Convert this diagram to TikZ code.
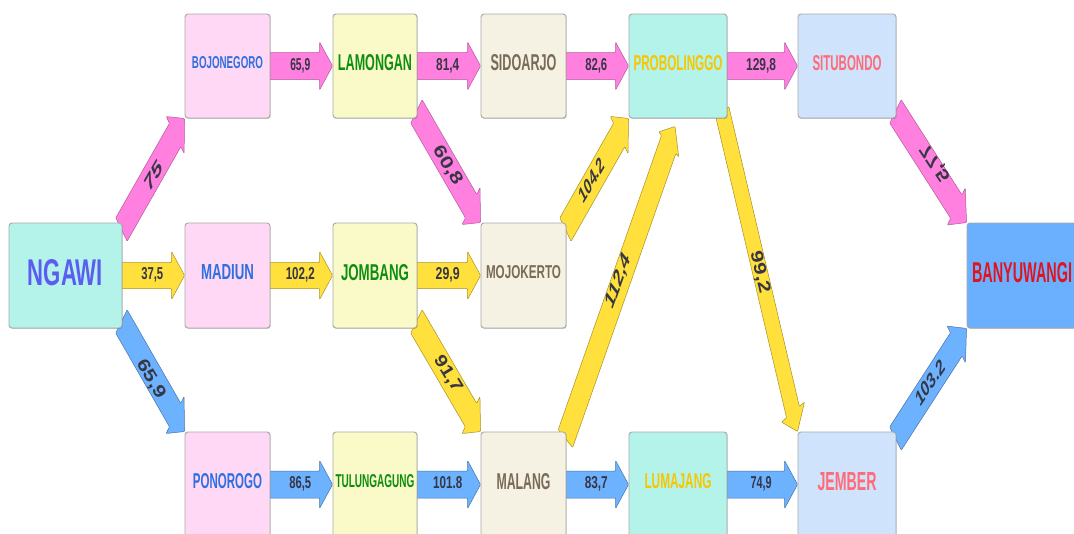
\documentclass[tikz,border=0pt]{standalone}
\usepackage{fontspec}
\setmainfont{Liberation Sans}
\usepackage{graphicx}
\usetikzlibrary{calc,shadows}
\definecolor{fMint}{HTML}{B4F3EA}
\definecolor{fPink}{HTML}{FFD8F5}
\definecolor{fYel}{HTML}{FAFAC8}
\definecolor{fBeige}{HTML}{F5F1E3}
\definecolor{fSky}{HTML}{CFE3FC}
\definecolor{fBlue}{HTML}{6BB0FF}
\definecolor{tViolet}{HTML}{5C5CF2}
\definecolor{tBlue}{HTML}{2F6FE0}
\definecolor{tGreen}{HTML}{0E8E0E}
\definecolor{tBrown}{HTML}{7A6B58}
\definecolor{tGold}{HTML}{F7C600}
\definecolor{tSalmon}{HTML}{FF6B78}
\definecolor{tRed}{HTML}{E0141E}
\definecolor{tNum}{HTML}{363645}
\definecolor{aPink}{HTML}{FF80DF}
\definecolor{aYel}{HTML}{FFE03C}
\definecolor{aBlue}{HTML}{6CB2FF}
\definecolor{edge}{HTML}{A8A8A8}
\pgfdeclarelayer{bg}
\pgfsetlayers{bg,main}
% tail, tip, cross-x, cross-y, shaft half, head half, head length, style
\newcommand\barrow[8]{%
  \coordinate (bA) at (#1);
  \coordinate (bT) at (#2);
  \coordinate (bB) at ($(bT)!#7pt!(bA)$);
  \filldraw[#8] ($(bA)+#5*(#3,#4)$) -- ($(bB)+#5*(#3,#4)$) -- ($(bB)+#6*(#3,#4)$) -- (bT)
    -- ($(bB)-#6*(#3,#4)$) -- ($(bB)-#5*(#3,#4)$) -- ($(bA)-#5*(#3,#4)$) -- cycle;}
\newcommand\cityname[3]{\raisebox{3.5pt}[#2][0pt]{\resizebox{#1}{#2}{\bfseries #3}}}
\newcommand\arrlbl[3][12pt]{\resizebox{#2}{#1}{\bfseries #3}}
\begin{document}
\begin{tikzpicture}[x=1pt,y=-1pt,
  box/.style={draw=edge, line width=0.9pt, rounded corners=3pt, minimum width=85pt,
    minimum height=105pt, inner sep=0pt, text depth=0pt,
    drop shadow={shadow xshift=0.7pt, shadow yshift=-0.9pt, fill=black, opacity=0.22}},
  pk/.style={fill=aPink, draw=aPink!70!black, line width=0.5pt, rounded corners=0.8pt},
  yl/.style={fill=aYel, draw=aYel!65!black, line width=0.5pt, rounded corners=0.8pt},
  bl/.style={fill=aBlue, draw=aBlue!65!black, line width=0.5pt, rounded corners=0.8pt},
  lbl/.style={text=tNum, inner sep=0pt, text depth=0pt}]
\useasboundingbox (0,0) rectangle (1074,533);
% row 1
\node[box, fill=fPink, text=tBlue, minimum height=104pt] (Bo) at (227.5,66) {\cityname{71pt}{12pt}{BOJONEGORO}};
\node[box, fill=fYel, text=tGreen, minimum width=84pt, minimum height=104pt] (La) at (375,66) {\cityname{74pt}{16pt}{LAMONGAN}};
\node[box, fill=fBeige, text=tBrown, minimum height=104pt] (Si) at (523.5,66) {\cityname{66pt}{16pt}{SIDOARJO}};
\node[box, fill=fMint, text=tGold, minimum width=98pt, minimum height=104pt] (Pr) at (678,66) {\cityname{89pt}{15pt}{PROBOLINGGO}};
\node[box, fill=fSky, text=tSalmon, minimum width=98pt, minimum height=104pt] (St) at (847,66) {\cityname{69pt}{15pt}{SITUBONDO}};
% row 2
\node[box, fill=fMint, text=tViolet, minimum width=113pt] (Ng) at (65.5,275.5) {\cityname{75pt}{26pt}{NGAWI}};
\node[box, fill=fPink, text=tBlue] (Ma) at (227.5,275.5) {\cityname{53pt}{15pt}{MADIUN}};
\node[box, fill=fYel, text=tGreen, minimum width=84pt] (Jo) at (375,275.5) {\cityname{68pt}{16pt}{JOMBANG}};
\node[box, fill=fBeige, text=tBrown] (Mo) at (523.5,275.5) {\cityname{75pt}{13pt}{MOJOKERTO}};
\node[box, fill=fBlue, text=tRed, minimum width=110pt] (By) at (1022,275.5) {\cityname{100pt}{20pt}{BANYUWANGI}};
% row 3
\node[box, fill=fPink, text=tBlue] (Po) at (227.5,484.5) {\cityname{69pt}{15pt}{PONOROGO}};
\node[box, fill=fYel, text=tGreen, minimum width=84pt] (Tu) at (375,484.5) {\cityname{79pt}{13pt}{TULUNGAGUNG}};
\node[box, fill=fBeige, text=tBrown] (Ml) at (523.5,484.5) {\cityname{54pt}{16pt}{MALANG}};
\node[box, fill=fMint, text=tGold, minimum width=98pt] (Lu) at (678,484.5) {\cityname{67pt}{15pt}{LUMAJANG}};
\node[box, fill=fSky, text=tSalmon, minimum width=98pt] (Je) at (847,484.5) {\cityname{59pt}{18pt}{JEMBER}};

\begin{pgfonlayer}{bg}
\fill[white] (0,0) rectangle (1074,533);
% horizontal arrows
\barrow{$(Bo.east)+(-3,0)$}{La.west}{0}{1}{13.5}{24}{13}{pk}
\barrow{$(La.east)+(-3,0)$}{Si.west}{0}{1}{13.5}{24}{13}{pk}
\barrow{$(Si.east)+(-3,0)$}{Pr.west}{0}{1}{13.5}{24}{13}{pk}
\barrow{$(Pr.east)+(-3,0)$}{St.west}{0}{1}{13.5}{24}{13}{pk}
\barrow{$(Ng.east)+(-3,0)$}{Ma.west}{0}{1}{13}{24}{13}{yl}
\barrow{$(Ma.east)+(-3,0)$}{Jo.west}{0}{1}{13}{24}{13}{yl}
\barrow{$(Jo.east)+(-3,0)$}{Mo.west}{0}{1}{13}{24}{13}{yl}
\barrow{$(Po.east)+(-3,0)$}{Tu.west}{0}{1}{13.5}{24}{13}{bl}
\barrow{$(Tu.east)+(-3,0)$}{Ml.west}{0}{1}{13.5}{24}{13}{bl}
\barrow{$(Ml.east)+(-3,0)$}{Lu.west}{0}{1}{13.5}{24}{13}{bl}
\barrow{$(Lu.east)+(-3,0)$}{Je.west}{0}{1}{13.5}{24}{13}{bl}
% diagonal arrows
\barrow{$(Ng.north east)+(-1,7)$}{Bo.south west}{0.437}{0.899}{13}{20.5}{19}{pk}
\barrow{$(Ng.south east)+(-1,-7)$}{Po.north west}{0.437}{-0.899}{13}{20.5}{19}{bl}
\barrow{$(La.south east)+(-1,-7)$}{Mo.north west}{0.437}{-0.899}{13}{20.5}{19}{pk}
\barrow{$(Jo.south east)+(-1,-7)$}{Ml.north west}{0.437}{-0.899}{13}{20.5}{19}{yl}
\barrow{$(Mo.north east)+(-1,7)$}{Pr.south west}{0.43}{0.903}{13}{20.5}{19}{yl}
\barrow{$(Ml.north east)+(-1,7)$}{$(Pr.south)+(-3,8)$}{0.625}{0.781}{11.5}{16}{19}{yl}
\barrow{$(Pr.south east)+(-5,-6)$}{Je.north west}{0.755}{-0.656}{8.5}{15.2}{20}{yl}
\barrow{$(St.south east)+(-1,-7)$}{By.north west}{0.437}{-0.899}{13}{20.5}{19}{pk}
\barrow{$(Je.north east)+(-1,7)$}{By.south west}{0.447}{0.894}{13}{20.5}{19}{bl}
% horizontal labels
\node[lbl] (h1) at ($(Bo.east)!0.48!(La.west)+(0,-2)$) {\arrlbl{20pt}{65,9}};
\node[lbl] (h2) at ($(La.east)!0.48!(Si.west)+(0,-2)$) {\arrlbl{23pt}{81,4}};
\node[lbl] (h3) at ($(Si.east)!0.48!(Pr.west)+(0,-2)$) {\arrlbl{22pt}{82,6}};
\node[lbl] (h4) at ($(Pr.east)!0.48!(St.west)+(0,-2)$) {\arrlbl{30pt}{129,8}};
\node[lbl] (h5) at ($(Ng.east)!0.48!(Ma.west)+(0,-2)$) {\arrlbl{22pt}{37,5}};
\node[lbl] (h6) at ($(Ma.east)!0.48!(Jo.west)+(0,-2)$) {\arrlbl{29pt}{102,2}};
\node[lbl] (h7) at ($(Jo.east)!0.48!(Mo.west)+(0,-2)$) {\arrlbl{24pt}{29,9}};
\node[lbl] (h8) at ($(Po.east)!0.48!(Tu.west)+(0,-2)$) {\arrlbl{22pt}{86,5}};
\node[lbl] (h9) at ($(Tu.east)!0.48!(Ml.west)+(0,-2)$) {\arrlbl{29pt}{101.8}};
\node[lbl] (h10) at ($(Ml.east)!0.48!(Lu.west)+(0,-2)$) {\arrlbl{23pt}{83,7}};
\node[lbl] (h11) at ($(Lu.east)!0.48!(Je.west)+(0,-2)$) {\arrlbl{21pt}{74,9}};
% diagonal labels
\node[lbl, cm={0.496,0.868,-0.437,0.899,(0,0)}] (d1) at (153.5,175.5) {\arrlbl[13pt]{28pt}{75}};
\node[lbl, rotate=-59] (d2) at (152,378.5) {\arrlbl{42pt}{65,9}};
\node[lbl, rotate=-58.9] (d3) at (448.5,165) {\arrlbl{43pt}{60,8}};
\node[lbl, rotate=-58.7] (d4) at (449,373.5) {\arrlbl{40pt}{91,7}};
\node[lbl, cm={0.511,0.860,-0.43,0.903,(0,0)}] (d5) at (591.5,180) {\arrlbl[13pt]{43pt}{104.2}};
\node[lbl, cm={0.338,0.941,-0.625,0.781,(0,0)}] (d6) at (617.5,280) {\arrlbl[13pt]{54pt}{112,4}};
\node[lbl, rotate=-76.6] (d7) at (761,272) {\arrlbl{42pt}{99,2}};
\node[lbl, rotate=-56.3, yscale=-1] (d8) at (934.5,164) {\arrlbl{41pt}{77,5}};
\node[lbl, cm={0.558,0.83,-0.447,0.894,(0,0)}] (d9) at (930,382.5) {\arrlbl[13pt]{46pt}{103.2}};
\end{pgfonlayer}
\end{tikzpicture}
\end{document}
